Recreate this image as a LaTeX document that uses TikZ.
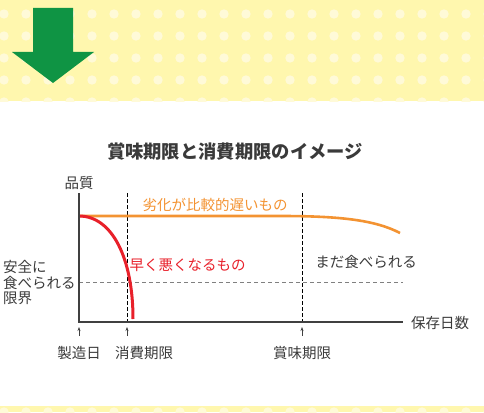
\documentclass[tikz,border=0pt]{standalone}
\usepackage{fontspec}
\setmainfont{Noto Sans CJK JP}
\usetikzlibrary{arrows.meta}

\definecolor{bandyellow}{HTML}{FFF7AE}
\definecolor{dotyellow}{HTML}{FFFAD8}
\definecolor{arrowgreen}{HTML}{0F9444}
\definecolor{axisgray}{HTML}{404040}
\definecolor{textgray}{HTML}{3A3A3A}
\definecolor{slowcol}{HTML}{F39332}
\definecolor{fastcol}{HTML}{E8202A}

\tikzstyle{band} = [fill=bandyellow]
\tikzstyle{spot} = [fill=dotyellow]
\tikzstyle{chartaxis} = [draw=axisgray,line width=2.4pt]
\tikzstyle{datemark} = [draw=black,line width=0.7pt,dash pattern=on 4pt off 2pt]
\tikzstyle{safeline} = [draw=gray,line width=0.9pt,dash pattern=on 4pt off 3pt]
\tikzstyle{uparrow} = [draw=axisgray,line width=0.7pt,-{Stealth[length=4pt,width=3pt]}]
\tikzstyle{slowline} = [draw=slowcol,line width=2.6pt]
\tikzstyle{fastline} = [draw=fastcol,line width=3pt]
\tikzstyle{txt} = [font=\fontsize{14.5}{15.5}\selectfont,text=textgray,inner sep=0pt]
\newcommand{\pxunit}{1pt}

\begin{document}
\begin{tikzpicture}[x=\pxunit, y=-\pxunit]
    \useasboundingbox (0,0) rectangle (484,412);
    % First we draw the dotted bands
    \begin{scope}
        \clip (0,0) rectangle (484,101);
        \path[band] (0,0) rectangle (484,101);
        \foreach \i in {0,...,22}
            \foreach \j in {0,...,4}
                \path[spot] (4+22*\i,14+22*\j) circle (4.7);
    \end{scope}
    \begin{scope}
        \clip (0,406) rectangle (484,412);
        \path[band] (0,406) rectangle (484,412);
        \foreach \i in {0,...,22}
            \path[spot] (4+22*\i,412) circle (4.7);
    \end{scope}
    \fill[arrowgreen] (33,8) -- (73,8) -- (73,52) -- (94,52) -- (53,83) -- (12,52) -- (33,52) -- cycle;

    \node[txt,font=\fontsize{18.3}{20}\selectfont\bfseries] (title) at (235,152) {賞味期限と消費期限のイメージ};

    % Key points of the chart
    \foreach \x/\y/\name in {79/322/o, 79/193/ytop, 403/322/xend, 127/193/usetop, 127/322/usebot, 302/193/besttop, 302/322/bestbot, 79/282/safel, 403/282/safer, 79/216/fresh, 280/216/slowbend, 400/233/slowend, 133/319/fastend}
        \coordinate (\name) at (\x,\y);
    \path[datemark] (usetop) -- (usebot);
    \path[datemark] (besttop) -- (bestbot);
    \path[safeline] (safel) -- (safer);
    \path[slowline] (fresh) -- (slowbend) .. controls (340,216) and (375,220) .. (slowend);
    \path[fastline] (fresh) .. controls (112,216) and (133,258) .. (fastend);
    \path[chartaxis] (ytop) -- (o) -- (xend);

    % Labels
    \node[txt] (quality) at (79,183) {品質};
    \node[txt] (days) at (440,323) {保存日数};
    \node[txt,align=left,anchor=west] (safe) at (3,283) {安全に\\食べられる\\限界};
    \node[txt,text=slowcol] (slow) at (215,205) {劣化が比較的遅いもの};
    \node[txt,text=fastcol] (fast) at (187.5,265) {早く悪くなるもの};
    \node[txt] (still) at (366,262) {まだ食べられる};

    % Dates under the axis
    \foreach \x/\lx/\name/\text in {79/79/mfg/製造日, 127/144/use/消費期限, 302/302/best/賞味期限} {
        \coordinate (\name-tail) at (\x,336);
        \coordinate (\name-tip) at (\x,327);
        \path[uparrow] (\name-tail) -- (\name-tip);
        \node[txt] (\name) at (\lx,353) {\text};
    }
\end{tikzpicture}
\end{document}
